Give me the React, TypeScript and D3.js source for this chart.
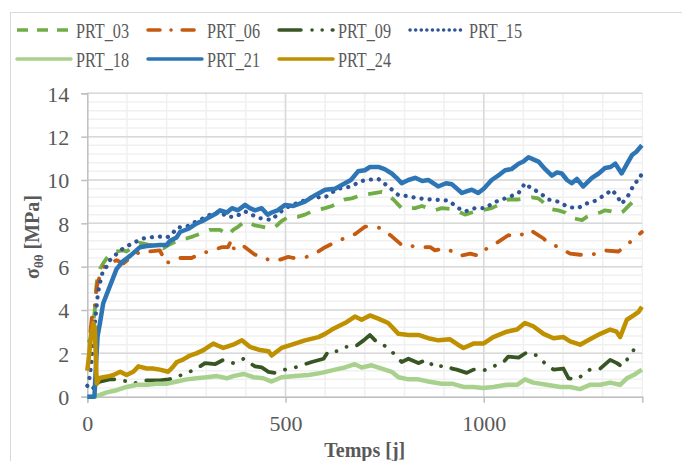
import { useRef, useEffect } from 'react';
import { select, scaleLinear, axisBottom, axisLeft, line, range } from 'd3';

type Pt = [number, number];

// readings [day, MPa] per sensor
const prt03: Pt[] = [[3,2.5],[11,2.8],[19,4.0],[24,5.3],[32,5.9],[40,6.15],[57,6.6],[74,6.7],[90,6.75],[99,6.7],[115,6.9],[133,7.1],[158,7.0],[175,6.95],[192,6.85],[210,7.05],[234,7.25],[250,7.3],[267,7.4],[290,7.55],[310,7.7],[335,7.7],[355,7.45],[368,7.7],[381,7.85],[398,8.1],[423,7.9],[440,7.85],[465,7.75],[478,7.9],[490,8.1],[507,8.3],[530,8.3],[549,8.4],[566,8.55],[600,8.7],[617,8.8],[650,9.1],[667,9.15],[692,9.3],[709,9.35],[743,9.45],[759,9.3],[772,9.1],[785,8.85],[793,8.7],[827,8.7],[844,8.8],[877,8.6],[894,8.7],[920,8.65],[936,8.55],[953,8.4],[970,8.5],[995,8.6],[1020,8.7],[1037,8.85],[1062,9.1],[1088,9.1],[1121,9.2],[1138,9.15],[1155,8.9],[1172,8.65],[1188,8.6],[1205,8.5],[1222,8.25],[1235,8.2],[1248,8.15],[1260,8.3],[1280,8.45],[1294,8.5],[1306,8.6],[1322,8.55],[1340,8.45],[1352,8.55],[1368,8.85],[1382,9.1],[1399,9.15]];
const prt06: Pt[] = [[8,3.0],[13,3.9],[19,4.2],[24,5.1],[36,5.85],[49,6.15],[60,6.2],[74,6.3],[91,6.15],[108,6.4],[125,6.6],[141,6.75],[158,6.7],[183,6.75],[190,6.5],[196,6.15],[221,6.3],[230,6.4],[263,6.4],[293,6.65],[310,6.7],[339,6.9],[355,6.9],[364,7.25],[370,6.8],[390,7.0],[398,6.9],[423,6.55],[448,6.45],[457,6.3],[482,6.3],[507,6.45],[520,6.4],[553,6.45],[583,6.7],[600,6.9],[629,7.15],[659,7.4],[675,7.5],[701,7.85],[726,7.85],[743,7.75],[768,7.4],[793,7.0],[806,7.05],[827,6.9],[865,6.9],[877,6.75],[903,6.85],[932,6.6],[940,6.5],[966,6.6],[987,6.5],[1000,6.75],[1033,7.1],[1062,7.45],[1088,7.4],[1117,7.7],[1151,7.3],[1159,7.15],[1188,6.9],[1218,6.6],[1243,6.55],[1273,6.55],[1306,6.75],[1340,6.7],[1367,7.1],[1390,7.45],[1399,7.6]];
const prt09: Pt[] = [[15,0.4],[24,0.6],[32,0.7],[57,0.8],[83,0.8],[99,0.7],[116,0.6],[141,0.75],[158,0.75],[183,0.75],[204,0.8],[221,0.85],[242,1.05],[272,1.25],[297,1.55],[322,1.5],[343,1.7],[368,1.55],[394,1.75],[410,1.55],[423,1.4],[440,1.35],[457,1.15],[474,1.1],[499,1.25],[516,1.3],[541,1.45],[566,1.6],[596,1.75],[608,2.1],[629,2.1],[650,2.3],[675,2.3],[697,2.6],[713,2.85],[726,2.6],[743,2.45],[764,2.15],[781,1.85],[793,1.6],[810,1.75],[835,1.55],[856,1.7],[877,1.35],[903,1.45],[920,1.3],[932,1.25],[957,1.1],[974,1.25],[999,1.2],[1024,1.4],[1050,1.6],[1062,1.85],[1088,1.8],[1109,2.05],[1134,1.9],[1151,1.6],[1176,1.25],[1201,1.3],[1214,0.85],[1235,0.8],[1256,1.1],[1268,1.25],[1294,1.3],[1319,1.7],[1336,1.55],[1348,1.4],[1374,2.0],[1382,2.3],[1399,2.25]];
const prt15: Pt[] = [[0,0.5],[6,0.9],[11,1.7],[18,3.2],[27,4.8],[32,5.25],[40,5.85],[49,6.0],[57,6.3],[66,6.45],[80,6.7],[91,6.85],[116,7.1],[141,7.3],[160,7.35],[175,7.4],[200,7.35],[212,7.45],[226,7.8],[251,7.85],[276,8.1],[295,8.25],[310,8.4],[335,8.55],[352,8.3],[373,8.3],[398,8.55],[415,8.4],[431,8.25],[450,8.2],[465,8.15],[482,8.45],[500,8.7],[516,8.85],[540,9.0],[566,9.2],[600,9.2],[615,9.4],[633,9.6],[667,9.7],[684,9.9],[701,10.0],[734,10.05],[759,9.7],[785,9.3],[810,9.25],[835,9.15],[869,9.1],[911,9.05],[936,8.7],[953,8.55],[978,8.7],[1004,8.7],[1020,8.9],[1037,9.05],[1062,9.2],[1088,9.4],[1104,9.85],[1121,9.6],[1138,9.45],[1163,9.1],[1188,9.0],[1213,8.75],[1238,8.7],[1256,8.9],[1277,9.0],[1295,9.2],[1306,9.3],[1323,9.55],[1335,9.3],[1348,8.9],[1365,9.3],[1382,9.9],[1390,9.95],[1399,10.3]];
const prt18: Pt[] = [[0,0],[18,0],[24,0.03],[49,0.2],[74,0.3],[99,0.45],[125,0.55],[150,0.55],[175,0.6],[200,0.6],[226,0.7],[251,0.8],[276,0.85],[301,0.9],[327,0.95],[352,0.85],[368,0.95],[394,1.05],[419,0.9],[444,0.85],[465,0.7],[490,0.9],[524,0.95],[558,1.0],[591,1.1],[625,1.25],[650,1.35],[675,1.5],[692,1.35],[717,1.45],[743,1.3],[768,1.15],[785,0.9],[810,0.8],[835,0.8],[860,0.7],[894,0.6],[920,0.6],[949,0.45],[974,0.45],[999,0.4],[1024,0.45],[1058,0.55],[1084,0.55],[1104,0.8],[1125,0.65],[1159,0.55],[1193,0.45],[1218,0.45],[1243,0.35],[1268,0.55],[1294,0.55],[1319,0.65],[1344,0.55],[1361,0.85],[1378,1.0],[1399,1.25]];
const prt21: Pt[] = [[0,0],[18,0],[22,1.5],[26,2.8],[32,3.4],[40,4.3],[57,5.1],[74,5.9],[90,6.25],[108,6.5],[133,6.9],[150,6.95],[183,7.0],[200,7.0],[209,7.2],[225,7.35],[234,7.6],[255,7.75],[276,8.0],[295,8.15],[310,8.3],[325,8.45],[335,8.6],[352,8.5],[365,8.7],[380,8.6],[398,8.85],[410,8.7],[423,8.6],[440,8.7],[455,8.4],[465,8.5],[480,8.6],[499,8.85],[520,8.8],[549,9.0],[575,9.3],[600,9.55],[625,9.6],[650,9.85],[665,10.0],[683,10.4],[700,10.45],[713,10.6],[734,10.6],[750,10.5],[768,10.3],[780,10.1],[793,9.85],[810,10.0],[827,10.1],[845,9.95],[860,10.0],[885,9.7],[905,9.85],[920,9.8],[945,9.4],[960,9.5],[970,9.55],[986,9.4],[1000,9.6],[1020,10.0],[1040,10.25],[1054,10.45],[1070,10.5],[1088,10.75],[1100,10.85],[1113,11.05],[1125,10.95],[1138,10.85],[1155,10.5],[1172,10.2],[1185,10.35],[1197,10.3],[1210,10.0],[1222,9.85],[1235,10.05],[1251,9.7],[1262,9.9],[1273,10.1],[1290,10.3],[1306,10.55],[1320,10.6],[1332,10.75],[1348,10.3],[1360,10.7],[1374,11.15],[1385,11.3],[1399,11.6]];
const prt24: Pt[] = [[0,1.2],[5,2.0],[10,2.9],[15,3.4],[19,3.2],[22,1.5],[24,0.6],[30,0.85],[40,0.9],[55,0.95],[66,1.0],[83,1.15],[99,1.0],[116,1.15],[129,1.4],[150,1.3],[165,1.3],[183,1.25],[204,1.15],[215,1.35],[226,1.6],[240,1.7],[259,1.9],[275,2.0],[293,2.15],[305,2.3],[318,2.45],[330,2.35],[343,2.25],[368,2.4],[390,2.6],[410,2.3],[436,2.15],[457,2.1],[465,1.9],[490,2.25],[516,2.4],[549,2.6],[583,2.75],[600,2.9],[617,3.1],[650,3.4],[675,3.7],[692,3.55],[713,3.75],[734,3.6],[759,3.4],[785,2.9],[810,2.85],[835,2.85],[860,2.7],[886,2.6],[915,2.65],[935,2.4],[949,2.25],[974,2.45],[999,2.45],[1024,2.75],[1058,3.0],[1084,3.1],[1104,3.4],[1125,3.25],[1151,2.9],[1176,2.7],[1201,2.75],[1218,2.55],[1243,2.4],[1268,2.65],[1294,2.9],[1319,3.1],[1335,3.0],[1344,2.75],[1361,3.55],[1378,3.75],[1390,3.9],[1399,4.15]];

const names = ['PRT_03', 'PRT_06', 'PRT_09', 'PRT_15', 'PRT_18', 'PRT_21', 'PRT_24'];
const seriesData = [prt03, prt06, prt09, prt15, prt18, prt21, prt24];
const colors = ['#70AD47', '#C55A11', '#375623', '#2F5597', '#A9D18E', '#2E75B6', '#BF9000'];
const dashes = ['14,11', '14,13,0.1,13', '24,11,0.1,11,0.1,11', '0.1,8', null, null, null];
const legendDashes = ['11,9', '12,11,0.1,11', '22,11,0.1,10,0.1,10', '0.1,5.5', null, null, null];
const xTicks = [0, 500, 1000];
const yTicks = [0, 2, 4, 6, 8, 10, 12, 14];

const FONT = '"Liberation Serif", "DejaVu Serif", serif';

export default function App() {
  const svgRef = useRef<SVGSVGElement>(null);

  useEffect(() => {
    if (!svgRef.current) return;
    const svg = select(svgRef.current);
    svg.selectAll('*').remove();

    const width = 682, height = 461;
    const x = scaleLinear().domain([0, 1400]).range([87.3, 642.3]);
    const y = scaleLinear().domain([0, 14]).range([396.7, 93.3]);

    svg.append('rect').attr('x', 0).attr('y', 0).attr('width', width).attr('height', height).attr('fill', '#fff');
    svg.append('rect').attr('x', 10.5).attr('y', 12.5).attr('width', 700).attr('height', 500)
      .attr('fill', 'none').attr('stroke', '#d9d9d9').attr('stroke-width', 1);

    // minor grid
    const grid = svg.append('g');
    grid.selectAll('.hmin').data(range(0, 14.01, 0.4)).join('line')
      .attr('x1', x(0)).attr('x2', x(1400)).attr('y1', d => y(d)).attr('y2', d => y(d))
      .attr('stroke', '#f0f0f0').attr('stroke-width', 1.5);
    grid.selectAll('.vmin').data(range(100, 1401, 100)).join('line')
      .attr('x1', d => x(d)).attr('x2', d => x(d)).attr('y1', y(0)).attr('y2', y(14))
      .attr('stroke', '#f0f0f0').attr('stroke-width', 1.5);
    // major grid
    grid.append('g').selectAll('line').data(yTicks.slice(1)).join('line')
      .attr('x1', x(0)).attr('x2', x(1400)).attr('y1', d => y(d)).attr('y2', d => y(d))
      .attr('stroke', '#d9d9d9').attr('stroke-width', 1.5);
    grid.append('g').selectAll('line').data(xTicks.slice(1)).join('line')
      .attr('x1', d => x(d)).attr('x2', d => x(d)).attr('y1', y(0)).attr('y2', y(14))
      .attr('stroke', '#d9d9d9').attr('stroke-width', 1.5);

    // axes
    const ya = svg.append('g').attr('transform', `translate(${x(0)},0)`)
      .call(axisLeft(y).tickValues(yTicks).tickSize(6).tickPadding(12).tickFormat((d: any) => String(d)) as any);
    ya.select('.domain').attr('stroke', '#bfbfbf').attr('stroke-width', 1.5);
    ya.selectAll('line').attr('stroke', '#bfbfbf').attr('stroke-width', 1.5);
    ya.selectAll('text').attr('fill', '#595959').style('font-size', '22px').style('font-family', FONT).attr('dy', '0.35em');

    const xa = svg.append('g').attr('transform', `translate(0,${y(0)})`)
      .call(axisBottom(x).tickValues(xTicks).tickSize(6).tickPadding(13).tickFormat((d: any) => String(d)) as any);
    xa.select('.domain').attr('stroke', '#bfbfbf').attr('stroke-width', 1.5);
    xa.selectAll('line').attr('stroke', '#bfbfbf').attr('stroke-width', 1.5);
    xa.selectAll('text').attr('fill', '#595959').style('font-size', '22px').style('font-family', FONT);

    // series
    const lineGen = line<Pt>().x(d => x(d[0])).y(d => y(d[1]));
    seriesData.forEach((data, i) => {
      const p = svg.append('path').datum(data).attr('d', lineGen)
        .attr('fill', 'none').attr('stroke', colors[i])
        .attr('stroke-width', dashes[i] ? 3.8 : 4.5)
        .attr('stroke-linejoin', 'round');
      if (dashes[i]) p.attr('stroke-dasharray', dashes[i]!).attr('stroke-linecap', i === 0 ? 'butt' : 'round');
      if (i === 3) p.attr('stroke-width', 4.2);
    });

    // legend
    const lg = svg.append('g');
    names.forEach((n, i) => {
      const col = i % 4, row = Math.floor(i / 4);
      const lx = 17 + col * 131, ly = 30 + row * 29;
      const l = lg.append('line').attr('x1', lx).attr('x2', lx + 54).attr('y1', ly).attr('y2', ly)
        .attr('stroke', colors[i]).attr('stroke-width', 3.5);
      if (legendDashes[i]) l.attr('stroke-dasharray', legendDashes[i]!).attr('stroke-linecap', i === 0 ? 'butt' : 'round');
      else l.attr('stroke-linecap', 'round');
      lg.append('text').attr('x', lx + 59).attr('y', ly + 7.5).text(n)
        .attr('fill', '#595959').style('font-size', '21.5px').style('font-family', FONT)
        .attr('textLength', 53).attr('lengthAdjust', 'spacingAndGlyphs');
    });

    // axis titles
    svg.append('text').attr('x', (x(0) + x(1400)) / 2).attr('y', 457).attr('text-anchor', 'middle')
      .attr('fill', '#595959').style('font-size', '20px').style('font-weight', 'bold').style('font-family', FONT)
      .text('Temps [j]');

    const yt = svg.append('text').attr('transform', `translate(39,${(y(0) + y(14)) / 2 - 8}) rotate(-90)`)
      .attr('text-anchor', 'middle').attr('fill', '#595959')
      .style('font-size', '20px').style('font-weight', 'bold').style('font-family', FONT);
    yt.append('tspan').text('σ');
    yt.append('tspan').attr('dy', 4).style('font-size', '13px').text('θθ');
    yt.append('tspan').attr('dy', -4).text(' [MPa]');
  }, []);

  return (
    <svg ref={svgRef} width={682} height={461}
      style={{ position: 'absolute', left: 0, top: 0, display: 'block' }} />
  );
}
